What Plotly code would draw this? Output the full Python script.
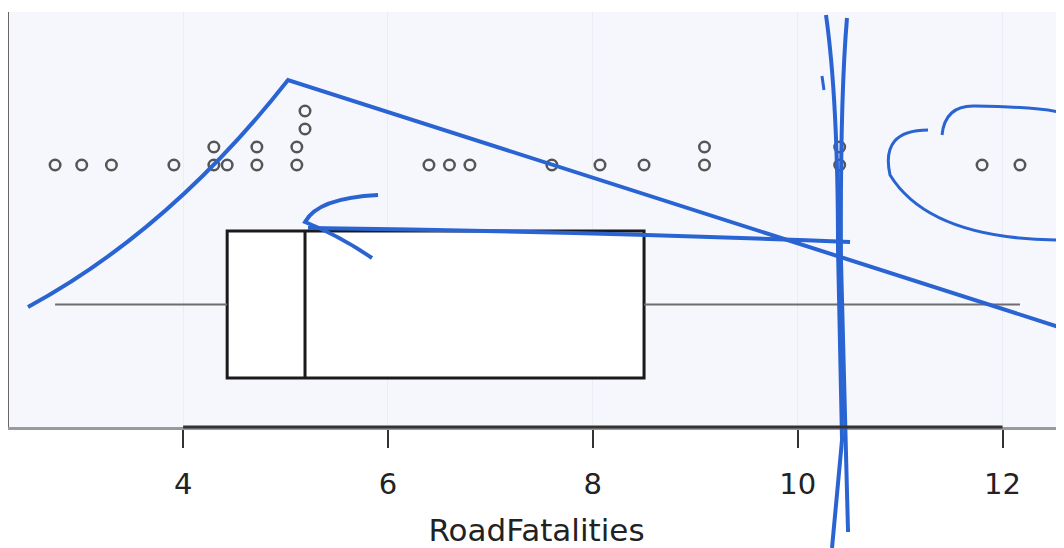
import numpy as np
import plotly.graph_objects as go

# ---- data ----
road_fatalities = [2.75, 3.01, 3.30, 3.91, 4.30, 4.30, 4.43, 4.72, 4.72,
                   5.11, 5.11, 5.19, 5.19, 6.40, 6.60, 6.80, 7.60, 8.07,
                   8.50, 9.09, 9.09, 10.41, 10.41, 11.80, 12.17]
tick_values = [4, 6, 8, 10, 12]
tick_labels = ["4", "6", "8", "10", "12"]
axis_title = "RoadFatalities"

# ---- layout constants ----
W, H = 1064, 548          # target picture size
OFF = 8                   # default page body margin
ML_IMG, MT_IMG, AX_Y_IMG = 9, 12, 427
X_RANGE = [2.30, 12.60]
PLOT_H = AX_Y_IMG - MT_IMG
Y_RANGE = [0, PLOT_H]     # y units = pixels above the x axis
DOT_BASE, DOT_STEP, DOT_GAP = 262, 18, 0.12
BOX_POS, BOX_W = 122.5, 147

# stack dots that would overlap (dot-plot stacking)
vals = sorted(road_fatalities)
levels = []
for i, v in enumerate(vals):
    used = {levels[j] for j in range(i) if abs(vals[j] - v) < DOT_GAP}
    lvl = 0
    while lvl in used:
        lvl += 1
    levels.append(lvl)
dot_y = [DOT_BASE + DOT_STEP * l for l in levels]

arr = np.array(road_fatalities)
q1, med, q3 = np.percentile(arr, [25, 50, 75])
lo, hi = arr.min(), arr.max()

fig = go.Figure()

# whiskers (thin grey)
fig.add_trace(go.Scatter(
    x=[lo, q1, None, q3, hi], y=[BOX_POS] * 5, mode="lines",
    line=dict(color="#6e6e6e", width=2), hoverinfo="skip", showlegend=False))

# box
fig.add_trace(go.Box(
    y=[BOX_POS], q1=[q1], median=[med], q3=[q3],
    lowerfence=[q1], upperfence=[q3], orientation="h",
    width=BOX_W, fillcolor="white", whiskerwidth=0,
    line=dict(color="#1a1a1a", width=3), boxpoints=False, showlegend=False))

# dots
fig.add_trace(go.Scatter(
    x=vals, y=dot_y, mode="markers",
    marker=dict(symbol="circle-open", size=10.5, color="#555555",
                line=dict(width=2.5, color="#555555")),
    showlegend=False))

# ---- hand-drawn blue pen marks on the scan (picture pixel coords) ----
def P(x, y):
    px = (x - ML_IMG) / (W - ML_IMG)
    py = 1 - (y - MT_IMG) / PLOT_H
    return f"{px:.4f},{py:.4f}"

def path(cmds):
    return " ".join(c if isinstance(c, str) else P(*c) for c in cmds)

pen = "#2a64d2"
pen_marks = [
    (["M", (28, 307), "Q", (170, 230), (288, 80), "L", (1062, 328)], 4),
    (["M", (826, 15), "Q", (838, 100), (838, 250), "L", (842, 440), "L", (832, 548)], 4),
    (["M", (847, 18), "Q", (840, 100), (841, 260), "L", (848, 532)], 4),
    (["M", (850, 242), "Q", (600, 232), (308, 228)], 4),
    (["M", (378, 195), "Q", (318, 198), (305, 222), "Q", (340, 236), (372, 258)], 4),
    (["M", (928, 130), "Q", (880, 130), (890, 175), "Q", (930, 240), (1063, 240)], 3),
    (["M", (942, 135), "Q", (945, 105), (975, 106), "Q", (1040, 107), (1063, 113)], 3),
    (["M", (822, 76), "L", (824, 90)], 3),
]
shapes = []
for cmds, w in pen_marks:
    shapes.append(dict(type="path", xref="paper", yref="paper", path=path(cmds),
                       line=dict(color=pen, width=w), layer="above"))

# darker bounded axis segment between first and last tick
shapes.append(dict(type="line", xref="x", yref="paper",
                   x0=tick_values[0], x1=tick_values[-1], y0=0, y1=0,
                   line=dict(color="#333333", width=3), layer="above"))

fig.update_layout(
    width=W - OFF, height=H - OFF,
    margin=dict(l=ML_IMG - OFF, r=0, t=MT_IMG - OFF, b=H - AX_Y_IMG, pad=0),
    paper_bgcolor="white", plot_bgcolor="#f5f7fc",
    font=dict(family="DejaVu Sans", color="#222222"),
    shapes=shapes,
    xaxis=dict(range=X_RANGE, tickvals=tick_values, ticktext=tick_labels,
               ticks="outside", ticklen=18, tickwidth=2, tickcolor="#333333",
               tickfont=dict(size=29), ticklabelstandoff=11,
               showline=True, linecolor="#9a9a9a", linewidth=3,
               showgrid=True, gridcolor="#eaedf3", gridwidth=1, zeroline=False,
               title=dict(text=axis_title, font=dict(size=31), standoff=27)),
    yaxis=dict(range=Y_RANGE, showticklabels=False, ticks="", showgrid=False,
               zeroline=False, showline=True, linecolor="#666666", linewidth=3),
)

fig.write_html("out.html")
